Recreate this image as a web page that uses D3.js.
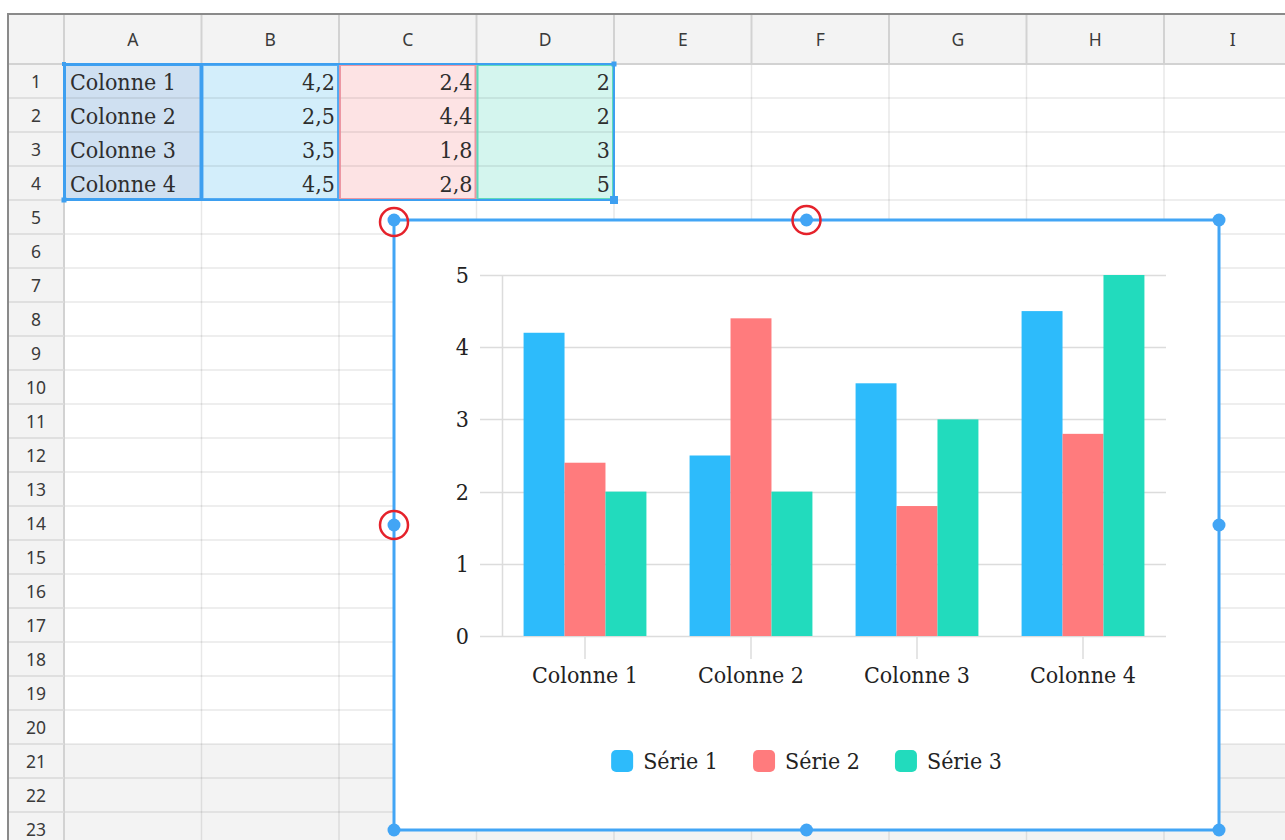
<!DOCTYPE html>
<html>
<head>
<meta charset="utf-8">
<script src="https://cdn.jsdelivr.net/npm/d3@7"></script>
<style>
  body { margin: 0; background: #fff; }
  svg { display: block; }
  .hdr { font-family: "Noto Sans", sans-serif; font-size: 17.5px; fill: #3a3a3a; }
  .cell { font-family: "DejaVu Serif", serif; font-stretch: condensed; font-size: 23px; fill: #2e2e2e; }
  .chart-text { font-family: "DejaVu Serif", serif; font-stretch: condensed; font-size: 23px; fill: #222; }
</style>
</head>
<body>
<svg id="sheet" width="1285" height="840"></svg>
<script>
// data
var categories = ["Colonne 1", "Colonne 2", "Colonne 3", "Colonne 4"];
var seriesNames = ["Série 1", "Série 2", "Série 3"];
var serie1 = [4.2, 2.5, 3.5, 4.5];
var serie2 = [2.4, 4.4, 1.8, 2.8];
var serie3 = [2, 2, 3, 5];
var yTicks = [0, 1, 2, 3, 4, 5];
var colLetters = ["A", "B", "C", "D", "E", "F", "G", "H", "I"];
var rowCount = 23;

var seriesValues = [serie1, serie2, serie3];
var seriesColors = ["#2dbbfb", "#ff7b7d", "#22dbbd"];
var cellFills = ["#d3eefb", "#fde3e4", "#d4f5ee"];
var cellBorders = ["#3d9ff0", "#e98a98", "#4ad5b3"];

var fr = d3.formatLocale({decimal: ",", thousands: " ", grouping: [3], currency: ["", " €"]});
var fmt = fr.format("~g");

var svg = d3.select("#sheet");

// ---- spreadsheet grid ----
var gridLeft = 8, gridTop = 14, headW = 56, headH = 50, colW = 137.5, rowH = 34;
var x0 = gridLeft + headW, y0 = gridTop + headH;

function colX(i) { return x0 + i * colW; }
function rowY(r) { return y0 + (r - 1) * rowH; }

// rows 21+ shaded
svg.append("rect").attr("x", x0).attr("y", rowY(21)).attr("width", 1285 - x0).attr("height", 840 - rowY(21)).attr("fill", "#f3f3f3");

// header bands
svg.append("rect").attr("x", gridLeft).attr("y", gridTop).attr("width", 1285 - gridLeft).attr("height", headH).attr("fill", "#f3f3f3");
svg.append("rect").attr("x", gridLeft).attr("y", gridTop).attr("width", headW).attr("height", 840 - gridTop).attr("fill", "#f3f3f3");

// data cell fills
svg.append("rect").attr("x", colX(0)).attr("y", rowY(1)).attr("width", colW).attr("height", categories.length * rowH).attr("fill", "#cfe0f1");
seriesValues.forEach(function(s, i) {
  svg.append("rect").attr("x", colX(i + 1)).attr("y", rowY(1)).attr("width", colW).attr("height", s.length * rowH).attr("fill", cellFills[i]);
});

// grid lines
var grid = svg.append("g").attr("stroke", "rgba(0,0,0,0.09)").attr("stroke-width", 1.5);
for (var c = 0; c <= colLetters.length; c++) {
  grid.append("line").attr("x1", colX(c)).attr("x2", colX(c)).attr("y1", y0).attr("y2", 840);
}
for (var r = 1; r <= rowCount + 1; r++) {
  grid.append("line").attr("x1", gridLeft).attr("x2", 1285).attr("y1", rowY(r)).attr("y2", rowY(r));
}
// header separators
var hs = svg.append("g").attr("stroke", "#d2d2d2").attr("stroke-width", 2);
for (var c2 = 0; c2 <= colLetters.length; c2++) {
  hs.append("line").attr("x1", colX(c2)).attr("x2", colX(c2)).attr("y1", gridTop).attr("y2", y0);
}
hs.append("line").attr("x1", gridLeft).attr("x2", 1285).attr("y1", y0).attr("y2", y0);
hs.append("line").attr("x1", x0).attr("x2", x0).attr("y1", gridTop).attr("y2", 840);
for (var r2 = 2; r2 <= rowCount + 1; r2++) {
  hs.append("line").attr("x1", gridLeft).attr("x2", x0).attr("y1", rowY(r2)).attr("y2", rowY(r2)).attr("stroke", "#dedede").attr("stroke-width", 1.5);
}
// outer frame
svg.append("path").attr("d", "M" + gridLeft + ",840V" + gridTop + "H1285").attr("fill", "none").attr("stroke", "#8a8a8a").attr("stroke-width", 2);

// header labels
svg.selectAll(".colhdr").data(colLetters).join("text").attr("class", "hdr")
  .attr("x", function(d, i) { return colX(i) + colW / 2; }).attr("y", gridTop + headH / 2 + 6.5)
  .attr("text-anchor", "middle").text(function(d) { return d; });
svg.selectAll(".rowhdr").data(d3.range(1, rowCount + 1)).join("text").attr("class", "hdr")
  .attr("x", gridLeft + headW / 2).attr("y", function(d) { return rowY(d) + rowH / 2 + 6.5; })
  .attr("text-anchor", "middle").text(function(d) { return d; });

// cell values
svg.selectAll(".catcell").data(categories).join("text").attr("class", "cell")
  .attr("x", colX(0) + 6).attr("y", function(d, i) { return rowY(i + 1) + 26; }).text(function(d) { return d; });
seriesValues.forEach(function(s, si) {
  svg.selectAll(".vcell" + si).data(s).join("text").attr("class", "cell")
    .attr("x", colX(si + 2) - 4).attr("y", function(d, i) { return rowY(i + 1) + 26; })
    .attr("text-anchor", "end").text(function(d) { return fmt(d); });
});

// range borders
var nRows = categories.length;
seriesValues.forEach(function(s, i) {
  svg.append("rect").attr("x", colX(i + 1) + 1).attr("y", rowY(1) + 1).attr("width", colW - 2).attr("height", nRows * rowH - 2)
    .attr("fill", "none").attr("stroke", cellBorders[i]).attr("stroke-width", 2).attr("opacity", 0.85);
});
svg.append("rect").attr("x", colX(0) + 1).attr("y", rowY(1) + 1).attr("width", colW - 2).attr("height", nRows * rowH - 2)
  .attr("fill", "none").attr("stroke", "#3d9ff0").attr("stroke-width", 2);
svg.append("line").attr("x1", colX(1)).attr("x2", colX(1)).attr("y1", rowY(1)).attr("y2", rowY(nRows + 1)).attr("stroke", "#3d9ff0").attr("stroke-width", 3);
var selL = colX(0), selR = colX(4), selT = rowY(1), selB = rowY(nRows + 1);
svg.append("rect").attr("x", selL).attr("y", selT).attr("width", selR - selL).attr("height", selB - selT)
  .attr("fill", "none").attr("stroke", "#3d9ff0").attr("stroke-width", 2);
[[selL, selT, 4], [selR, selT, 5], [selL, selB, 5], [selR, selB, 8]].forEach(function(p) {
  svg.append("rect").attr("x", p[0] - p[2] / 2).attr("y", p[1] - p[2] / 2).attr("width", p[2]).attr("height", p[2]).attr("fill", "#3d9ff0");
});

// ---- chart ----
var ch = {left: 394, top: 220, right: 1219, bottom: 830};
svg.append("rect").attr("x", ch.left).attr("y", ch.top).attr("width", ch.right - ch.left).attr("height", ch.bottom - ch.top).attr("fill", "#fff");

var plot = {left: 502, right: 1166, top: 275, bottom: 636};
var x = d3.scaleBand().domain(categories).range([plot.left, plot.right]).padding(0);
var groupPad = x.bandwidth() * 0.13;
var x1 = d3.scaleBand().domain(seriesNames).range([groupPad, x.bandwidth() - groupPad]).padding(0);
var y = d3.scaleLinear().domain([0, 5]).range([plot.bottom, plot.top]);

var g = svg.append("g");
// gridlines
g.selectAll(".gl").data(yTicks).join("line")
  .attr("x1", plot.left - 22).attr("x2", plot.right)
  .attr("y1", function(d) { return Math.round(y(d)) + 0.5; }).attr("y2", function(d) { return Math.round(y(d)) + 0.5; })
  .attr("stroke", "#dcdcdc").attr("stroke-width", 1.5);
g.append("line").attr("x1", plot.left + 0.5).attr("x2", plot.left + 0.5).attr("y1", plot.top).attr("y2", plot.bottom)
  .attr("stroke", "#dcdcdc").attr("stroke-width", 1.5);
g.selectAll(".xt").data(categories).join("line")
  .attr("x1", function(d) { return x(d) + x.bandwidth() / 2; }).attr("x2", function(d) { return x(d) + x.bandwidth() / 2; })
  .attr("y1", plot.bottom).attr("y2", plot.bottom + 23).attr("stroke", "#dcdcdc").attr("stroke-width", 1.5);

// bars
var barData = [];
categories.forEach(function(c, ci) {
  seriesNames.forEach(function(s, si) {
    barData.push({cat: c, ser: s, si: si, v: seriesValues[si][ci]});
  });
});
g.selectAll(".bar").data(barData).join("rect")
  .attr("x", function(d) { return x(d.cat) + x1(d.ser); })
  .attr("width", x1.bandwidth())
  .attr("y", function(d) { return y(d.v); })
  .attr("height", function(d) { return y(0) - y(d.v); })
  .attr("fill", function(d) { return seriesColors[d.si]; });

// axis labels
g.selectAll(".yl").data(yTicks).join("text").attr("class", "chart-text")
  .attr("x", 469).attr("y", function(d) { return y(d) + 8; }).attr("text-anchor", "end").text(function(d) { return d; });
g.selectAll(".xl").data(categories).join("text").attr("class", "chart-text")
  .attr("x", function(d) { return x(d) + x.bandwidth() / 2; }).attr("y", 683).attr("text-anchor", "middle").text(function(d) { return d; });

// legend
var leg = svg.append("g");
var items = leg.selectAll(".li").data(seriesNames).join("g");
items.append("rect").attr("width", 22).attr("height", 22).attr("rx", 5).attr("y", -11).attr("fill", function(d, i) { return seriesColors[i]; });
items.append("text").attr("class", "chart-text").attr("x", 32).attr("y", 8).text(function(d) { return d; });
var offs = [], tot = 0;
items.each(function() {
  var w = this.getBBox().width;
  offs.push(tot);
  tot += w + 35;
});
tot -= 35;
var legX = (ch.left + ch.right) / 2 - tot / 2;
items.attr("transform", function(d, i) { return "translate(" + (legX + offs[i]) + ",761)"; });

// frame + handles
svg.append("rect").attr("x", ch.left).attr("y", ch.top).attr("width", ch.right - ch.left).attr("height", ch.bottom - ch.top)
  .attr("fill", "none").attr("stroke", "#42a5f5").attr("stroke-width", 3);
var midX = (ch.left + ch.right) / 2, midY = 525;
var handles = [[ch.left, ch.top], [midX, ch.top], [ch.right, ch.top], [ch.left, midY], [ch.right, midY], [ch.left, ch.bottom], [midX, ch.bottom], [ch.right, ch.bottom]];
svg.selectAll(".hd").data(handles).join("circle").attr("cx", function(d) { return d[0]; }).attr("cy", function(d) { return d[1]; })
  .attr("r", 6.5).attr("fill", "#42a5f5");
svg.selectAll(".rc").data([handles[0], handles[1], handles[3]]).join("circle").attr("cx", function(d) { return d[0]; }).attr("cy", function(d) { return d[1] + (d === handles[0] ? 2 : 0); })
  .attr("r", 14).attr("fill", "none").attr("stroke", "#e5222b").attr("stroke-width", 2.5);
</script>
</body>
</html>
